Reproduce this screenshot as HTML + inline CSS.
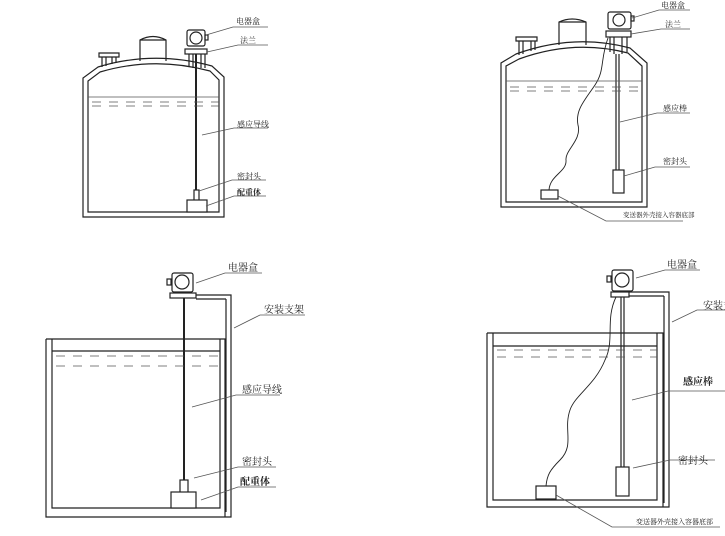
<!DOCTYPE html>
<html><head><meta charset="utf-8"><style>
html,body{margin:0;padding:0;background:#fff;width:725px;height:536px;overflow:hidden}
svg{display:block}
text{font-family:"Liberation Serif","Noto Serif CJK SC",serif;fill:#222}
</style></head><body>
<svg width="725" height="536" viewBox="0 0 725 536" xmlns="http://www.w3.org/2000/svg">
<g fill="none" stroke="#222" stroke-width="1.2">
<!-- ===== Diagram 1 ===== -->
<path d="M83,217 L83,78 L98,67 Q154,50 212,66 L224,77 L224,217 Z" fill="#fff"/>
<path d="M88,212 L88,81 L100,72 Q154,56 210,71 L219,80 L219,212 Z"/>
<!-- nozzle left -->
<path d="M102,67 L102,57 M106,66 L106,57 M112,64 L112,57 M116,63 L116,57 M99,53 L119,53 L119,57 L99,57 Z"/>
<!-- dome -->
<path d="M140,61 L140,40 Q153,33 166,40 L166,61"/><path d="M140,40 L166,40"/>
<!-- flange & box -->
<rect x="185" y="49" width="22" height="5" fill="#fff"/>
<path d="M189,54 L189,66 M193,54 L193,68 M201,54 L201,68 M205,54 L205,68"/>
<rect x="187" y="30" width="18" height="16" rx="2" fill="#fff"/>
<circle cx="196" cy="38" r="6"/>
<rect x="205" y="35" width="3" height="5"/>
<line x1="196" y1="54" x2="196" y2="190" stroke-width="2"/>
<rect x="194" y="190" width="5" height="12" fill="#fff"/>
<rect x="187" y="200" width="20" height="12" fill="#fff"/>
</g>
<g stroke="#555" stroke-width="0.8" fill="none">
<line x1="88" y1="97" x2="219" y2="97"/>
<line x1="92" y1="102" x2="219" y2="102" stroke-dasharray="9,8"/>
<line x1="92" y1="106" x2="219" y2="106" stroke-dasharray="9,8"/>
<path d="M206,35 L233,27 L268,27"/><path d="M207,52 L238,45 L268,45"/>
<path d="M202,135 L234,128 L268,128"/><path d="M199,191 L232,180 L266,180"/>
<path d="M206,206 L234,196 L266,196"/>
</g>
<g font-size="8">
<text x="236" y="24">电器盒</text><text x="240" y="43">法兰</text>
<text x="237" y="127">感应导线</text><text x="237" y="179">密封头</text>
<text x="237" y="195" font-weight="bold">配重体</text>
</g>

<!-- ===== Diagram 2 ===== -->
<g fill="none" stroke="#222" stroke-width="1.2">
<path d="M501,207 L501,63 L516,54 Q574,33 630,48 L647,63 L647,207 Z" fill="#fff"/>
<path d="M506,202 L506,66 L519,59 Q574,39 628,53 L642,66 L642,202 Z"/>
<path d="M519,55 L519,41 M523,54 L523,41 M531,51 L531,41 M535,50 L535,41 M516,37 L537,37 L537,41 L516,41 Z"/>
<path d="M559,45 L559,22 Q572,16 586,22 L586,45"/><path d="M559,22 L586,22"/>
<rect x="606" y="31" width="25" height="6" fill="#fff"/>
<path d="M610,37 L610,52 M614,37 L614,54 M622,37 L622,54 M627,37 L627,52"/>
<rect x="608" y="12" width="23" height="17" rx="2" fill="#fff"/>
<circle cx="619" cy="20" r="6"/>
<rect x="631" y="16" width="3" height="5"/>
<line x1="616" y1="54" x2="616" y2="170"/><line x1="619" y1="54" x2="619" y2="170"/>
<rect x="613" y="170" width="11" height="23" fill="#fff"/>
<rect x="541" y="190" width="17" height="9" fill="#fff"/>
<path d="M608,38 C600,60 605,70 595,85 C585,100 575,110 578,125 C582,140 565,150 566,160 C567,172 550,175 549,190" stroke-width="0.9"/>
</g>
<g stroke="#555" stroke-width="0.8" fill="none">
<line x1="506" y1="81" x2="642" y2="81"/>
<line x1="510" y1="87" x2="642" y2="87" stroke-dasharray="9,8"/>
<line x1="510" y1="91" x2="642" y2="91" stroke-dasharray="9,8"/>
<path d="M632,18 L659,10 L690,10"/><path d="M631,34 L661,29 L690,29"/>
<path d="M620,122 L657,113 L690,113"/><path d="M624,176 L655,167 L690,167"/>
<path d="M558,196 L606,221 L683,221"/>
</g>
<g font-size="8">
<text x="661" y="8">电器盒</text><text x="665" y="27">法兰</text>
<text x="663" y="111">感应棒</text><text x="663" y="164">密封头</text>
<text x="623" y="217" font-size="6.5">变送器外壳接入容器底部</text>
</g>

<!-- ===== Diagram 3 ===== -->
<g fill="none" stroke="#222" stroke-width="1.2">
<path d="M46,339 L46,517 L231,517 L231,295 L196,295"/>
<path d="M52,339 L52,508 L220,508 L220,339"/>
<path d="M46,339 L225,339 L225,517"/>
<path d="M226,299 L226,512"/>
<path d="M196,299 L226,299"/>
<line x1="52" y1="351" x2="220" y2="351"/>
<rect x="170" y="293" width="26" height="5" fill="#fff"/>
<rect x="172" y="273" width="21" height="19" rx="2" fill="#fff"/>
<circle cx="182" cy="282" r="7"/>
<rect x="167" y="279" width="4" height="6"/>
<line x1="184" y1="298" x2="184" y2="480" stroke-width="2"/>
<rect x="180" y="480" width="8" height="16" fill="#fff"/>
<rect x="171" y="492" width="25" height="16" fill="#fff"/>
</g>
<g stroke="#555" stroke-width="0.8" fill="none">
<line x1="56" y1="356" x2="220" y2="356" stroke-dasharray="9,8"/>
<line x1="56" y1="366" x2="220" y2="366" stroke-dasharray="9,8"/>
<path d="M196,283 L225,273 L262,273"/><path d="M234,328 L260,315 L305,315"/>
<path d="M192,407 L236,395 L280,395"/><path d="M194,478 L238,467 L276,467"/>
<path d="M201,500 L238,487 L276,487"/>
</g>
<g font-size="10">
<text x="228" y="271">电器盒</text><text x="264" y="313">安装支架</text>
<text x="242" y="393">感应导线</text><text x="242" y="465">密封头</text>
<text x="240" y="485" font-weight="bold">配重体</text>
</g>

<!-- ===== Diagram 4 ===== -->
<g fill="none" stroke="#222" stroke-width="1.2">
<path d="M487,333 L487,507 L669,507 L669,292 L629,292"/>
<path d="M493,333 L493,500 L657,500 L657,333"/>
<path d="M487,333 L663,333 L663,507"/>
<path d="M664,296 L664,503"/>
<path d="M629,296 L664,296"/>
<line x1="493" y1="346" x2="657" y2="346"/>
<rect x="611" y="292" width="18" height="5" fill="#fff"/>
<rect x="612" y="270" width="21" height="21" rx="2" fill="#fff"/>
<circle cx="622" cy="280" r="7"/>
<rect x="607" y="276" width="4" height="6"/>
<line x1="621" y1="297" x2="621" y2="467"/><line x1="624" y1="297" x2="624" y2="467"/>
<rect x="616" y="467" width="13" height="29" fill="#fff"/>
<rect x="536" y="486" width="20" height="13" fill="#fff"/>
<path d="M616,297 C605,320 615,340 605,360 C595,385 575,395 570,410 C563,430 575,445 560,460 C550,470 547,475 546,486" stroke-width="0.9"/>
</g>
<g stroke="#555" stroke-width="0.8" fill="none">
<line x1="497" y1="350" x2="657" y2="350" stroke-dasharray="9,8"/>
<line x1="497" y1="357" x2="657" y2="357" stroke-dasharray="9,8"/>
<path d="M636,278 L665,270 L700,270"/><path d="M672,322 L697,310 L725,310"/>
<path d="M632,400 L668,391 L725,391"/><path d="M633,468 L670,460 L715,460"/>
<path d="M556,495 L612,527 L720,527"/>
</g>
<g font-size="10">
<text x="667" y="268">电器盒</text><text x="703" y="309">安装支架</text>
<text x="683" y="385" font-weight="bold">感应棒</text><text x="678" y="464">密封头</text>
<text x="636" y="524" font-size="7">变送器外壳接入容器底部</text>
</g>
</svg>
</body></html>
